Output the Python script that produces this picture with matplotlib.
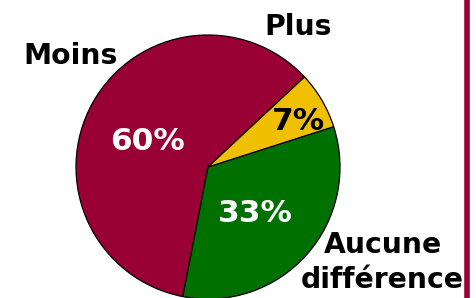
import matplotlib
matplotlib.use("Agg")
import matplotlib.pyplot as plt

categories = ["Moins", "Aucune\ndifférence", "Plus"]
values = [60, 33, 7]
pct_labels = ["60%", "33%", "7%"]
colors = ["#990033", "#007000", "#F0C000"]
pct_colors = ["white", "white", "black"]

W, H = 477, 298
fig = plt.figure(figsize=(W / 100, H / 100), dpi=100)
ax = fig.add_axes([0, 0, 1, 1])
ax.set_xlim(0, W)
ax.set_ylim(0, H)

wedges, _ = ax.pie(values, colors=colors, startangle=43, counterclock=True,
                   center=(208, H - 167), radius=132,
                   wedgeprops=dict(edgecolor="black", linewidth=0.9))
ax.set_xlim(0, W)
ax.set_ylim(0, H)
ax.set_aspect("equal")
ax.axis("off")

font = dict(family="DejaVu Sans", weight="bold")
# percentage labels (center x, baseline y in pixels from top)
pct_pos = [(147.5, 150), (255, 222), (298.5, 130)]
for (x, y), t, c in zip(pct_pos, pct_labels, pct_colors):
    ax.text(x, H - y, t, color=c, fontsize=22.5, ha="center", va="baseline", **font)

# category labels, one line at a time
cat_pos = [[(70.5, 64)], [(382.5, 253), (382.5, 288)], [(298, 35)]]
for lines_pos, t in zip(cat_pos, categories):
    for (x, y), line in zip(lines_pos, t.split("\n")):
        ax.text(x, H - y, line, color="black", fontsize=20.3, ha="center",
                va="baseline", **font)

ax.axvline(467, color="#990033", lw=4)

fig.savefig("out.png", dpi=100)
